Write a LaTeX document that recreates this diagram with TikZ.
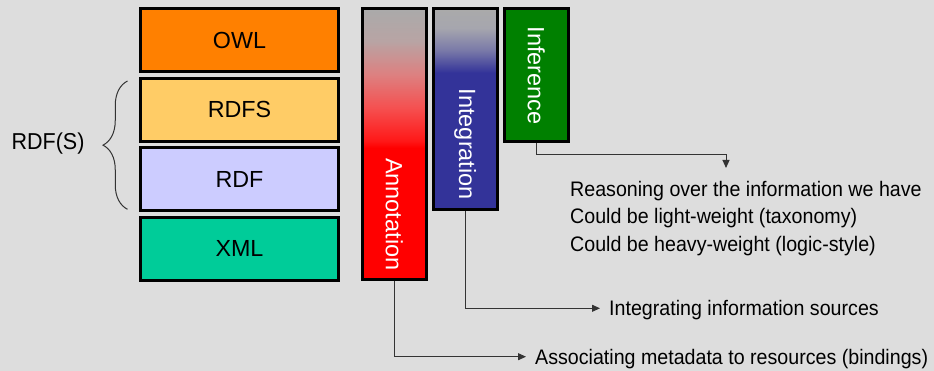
\documentclass[tikz,border=0pt]{standalone}
\usepackage{fontspec}
\setmainfont{Liberation Sans}
\newfontfamily\narrowfont{Liberation Sans}[FakeStretch=0.935]
\usepackage{xcolor}
\usepackage{tikz}
\usetikzlibrary{arrows.meta}
\usetikzlibrary{positioning}
\usetikzlibrary{decorations.pathreplacing}

\definecolor{bggray}{RGB}{221,221,221}
\definecolor{owlorange}{RGB}{255,128,0}
\definecolor{rdfsyellow}{RGB}{255,204,102}
\definecolor{rdflilac}{RGB}{204,204,255}
\definecolor{xmlgreen}{RGB}{0,204,153}
\definecolor{fadegray}{RGB}{170,170,170}
\definecolor{integblue}{RGB}{51,51,153}
\definecolor{infergreen}{RGB}{0,128,0}
\definecolor{linegray}{RGB}{51,51,51}
\definecolor{redfadeA}{RGB}{255,24,24}
\definecolor{redfadeB}{RGB}{245,80,80}
\definecolor{redfadeC}{RGB}{221,128,128}
\definecolor{redfadeD}{RGB}{184,164,164}
\definecolor{bluefadeA}{RGB}{120,120,168}
\definecolor{bluefadeB}{RGB}{166,166,174}

% fades at the top of the bars (measured from the bottom)
\pgfdeclareverticalshading{annotfade}{64pt}{color(0pt)=(red); color(7pt)=(redfadeA);
  color(40pt)=(redfadeB); color(73pt)=(redfadeC); color(107pt)=(redfadeD);
  color(139pt)=(fadegray)}
\pgfdeclareverticalshading{integfade}{64pt}{color(0pt)=(integblue); color(3pt)=(integblue);
  color(25pt)=(bluefadeA); color(48pt)=(bluefadeB); color(67pt)=(fadegray)}

\begin{document}
\begin{tikzpicture}[x=1pt,y=-1pt,>={Triangle[length=8pt,width=7pt]},
  layer node/.style={rectangle,draw=black,line width=3pt,minimum width=198pt,
    minimum height=63pt,inner sep=0pt,font=\fontsize{23.3}{28}\selectfont},
  bar node/.style={rectangle,draw=black,line width=3pt,minimum width=64pt,
    inner sep=0pt,anchor=north west},
  fade/.style={inner sep=0pt,outer sep=0pt,minimum width=0pt,minimum height=0pt,
    draw=none,fill=none,anchor=north},
  bar label/.style={rotate=-90,text=white,inner sep=0pt,
    font=\fontsize{23.5}{28}\selectfont},
  note/.style={anchor=west,inner xsep=9pt,inner ysep=0pt,text height=15pt,
    text depth=0pt,font=\narrowfont\fontsize{21}{27.5}\selectfont},
  link/.style={->,draw=linegray,line width=1pt}]

  \useasboundingbox (0,0) rectangle (934,371);
  \fill[bggray] (0,0) rectangle (934,371);

  % layer stack
  \node[layer node,fill=owlorange] (owl) at (239.5,40.3) {OWL};
  \node[layer node,fill=rdfsyellow,below=3.5pt of owl] (rdfs) {RDFS};
  \node[layer node,fill=rdflilac,below=3.5pt of rdfs] (rdf) {RDF};
  \node[layer node,fill=xmlgreen,below=3.5pt of rdf] (xml) {XML};

  \draw[linegray,line width=1pt,decorate,decoration={brace,amplitude=24.5pt}]
    (127.5,209.3) -- (127.5,81);
  \node[font=\narrowfont\fontsize{23}{28}\selectfont] (rdfsgroup) at (48,144) {RDF(S)};

  % vertical bars
  \node[bar node,minimum height=271pt,fill=red,
    path picture={\node[fade] at (path picture bounding box.north)
      {\pgfuseshading{annotfade}};}] (annot) at (360.7,7.3) {};
  \node[bar node,minimum height=201pt,fill=integblue,right=4pt of annot.north east,
    anchor=north west,
    path picture={\node[fade] at (path picture bounding box.north)
      {\pgfuseshading{integfade}};}] (integ) {};
  \node[bar node,minimum height=132.4pt,fill=infergreen,right=4pt of integ.north east,
    anchor=north west] (infer) {};

  \node[bar label] (annotlbl) at ([yshift=67pt]annot.south) {Annotation};
  \node[bar label] (integlbl) at ([yshift=67pt]integ.south) {Integration};
  \node[bar label] (inferlbl) at ([yshift=67pt]infer.south) {Inference};

  % notes
  \node[anchor=north west,align=left,inner sep=0pt,
    font=\narrowfont\fontsize{21}{27.5}\selectfont] (reason) at (570,180.7)
    {Reasoning over the information we have\\
     Could be light-weight (taxonomy)\\
     Could be heavy-weight (logic-style)};
  \node[note] (isrc) at (600,308.3) {Integrating information sources};
  \node[note] (assoc) at (526,356.7) {Associating metadata to resources (bindings)};

  \coordinate (rtip) at (726,168);
  \draw[link] (infer.south) -- ++(0,12.3) -| (rtip);
  \draw[link] (integ.south) |- (isrc.west);
  \draw[link] (annot.south) |- (assoc.west);
\end{tikzpicture}
\end{document}
